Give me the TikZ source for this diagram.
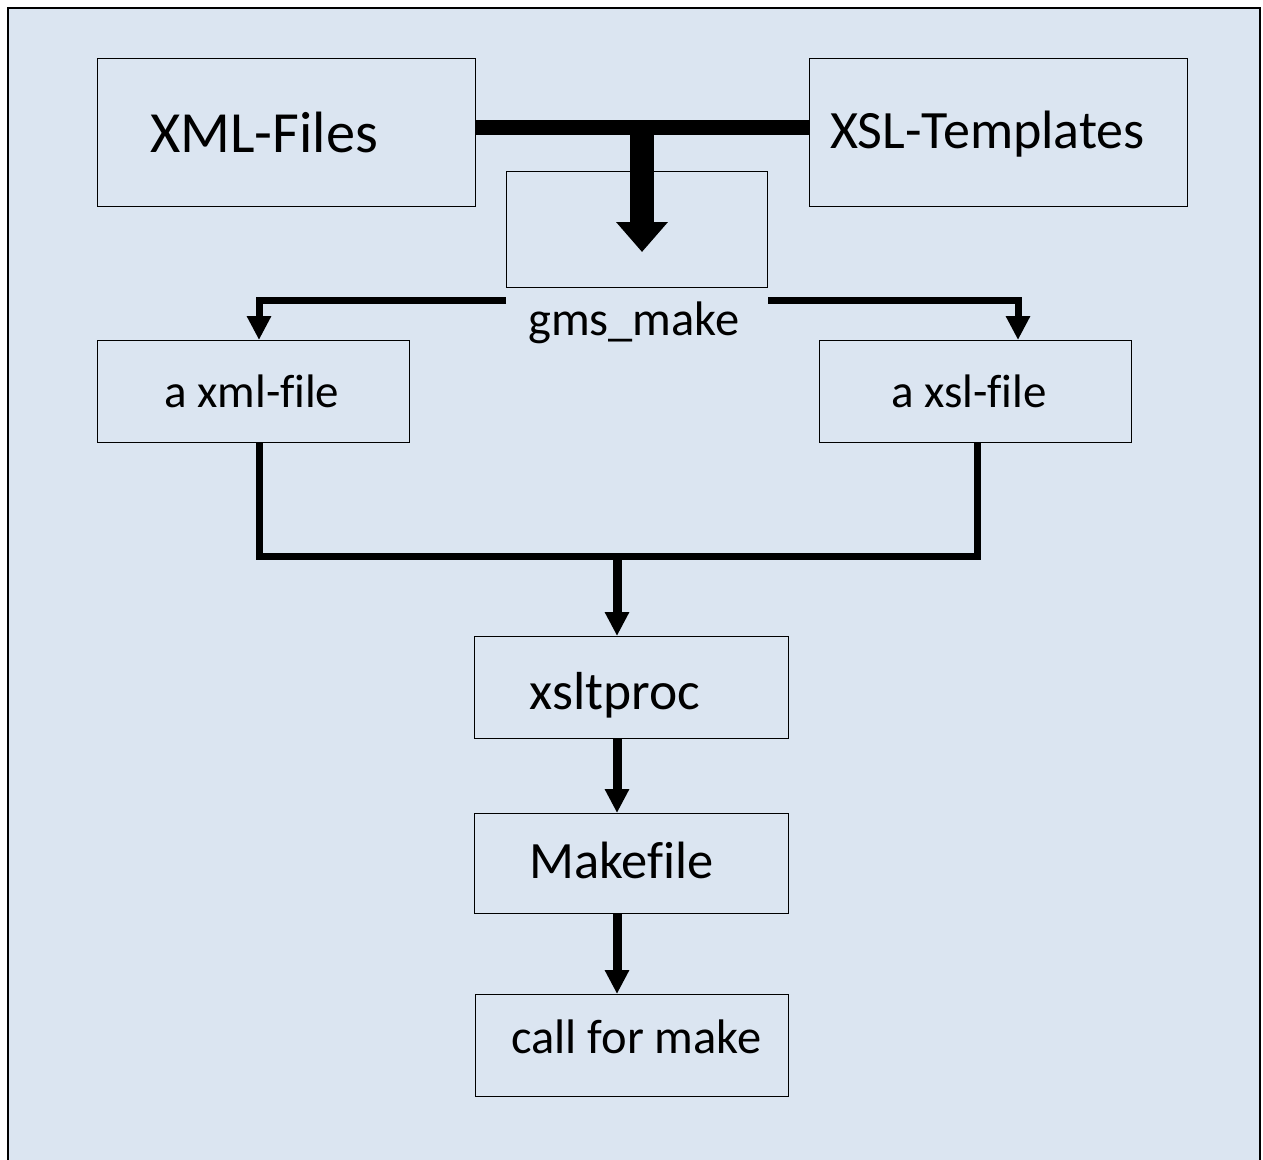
\documentclass[tikz,border=0pt]{standalone}
\usepackage{fontspec}
\setmainfont{Carlito}[Ligatures=NoCommon]
\usetikzlibrary{arrows.meta}
\definecolor{panel}{RGB}{219,229,241}
\newcommand\setfs[1]{\fontsize{#1}{#1}\selectfont}
\begin{document}
\begin{tikzpicture}[x=1pt,y=-1pt,
  box/.style={draw=black, line width=1.3pt, inner sep=0pt, anchor=north west},
  lbl/.style={anchor=base west, inner sep=0pt},
  wire/.style={line width=7pt},
  flow/.style={line width=9pt, -{Triangle[width=23pt,length=24pt]}},
  branch/.style={line width=7pt, -{Triangle[width=23pt,length=24pt]}},
  merge/.style={line width=15pt},
  trunk/.style={line width=24pt, -{Triangle[width=50pt,length=30pt]}}]
\useasboundingbox (0,0) rectangle (1263,1159);

% panel
\fill[panel] (8,8) rectangle (1260,1170);
\draw[line width=2pt] (8,1170) -- (8,8) -- (1260,8) -- (1260,1170);

% boxes
\node[box, minimum width=378pt, minimum height=148pt] (xml)  at (97,58)   {};
\node[box, minimum width=378pt, minimum height=148pt] (xsl)  at (809,58)  {};
\node[box, minimum width=261pt, minimum height=116pt] (gms)  at (506,171) {};
\node[box, minimum width=312pt, minimum height=102pt] (axml) at (97,340)  {};
\node[box, minimum width=312pt, minimum height=102pt] (axsl) at (819,340) {};
\node[box, minimum width=314pt, minimum height=102pt] (xslt) at (474,636) {};
\node[box, minimum width=314pt, minimum height=100pt] (mk)   at (474,813) {};
\node[box, minimum width=313pt, minimum height=102pt] (call) at (475,994) {};

% labels
\node[lbl, font=\setfs{58.3}] (txml)  at (150,152)  {XML-Files};
\node[lbl, font=\setfs{54}]   (txsl)  at (830,148)  {XSL-Templates};
\node[lbl, font=\setfs{48.5}] (tgms)  at (528,335)  {gms\_make};
\node[lbl, font=\setfs{47}]   (taxml) at (164,407)  {a xml-file};
\node[lbl, font=\setfs{47}]   (taxsl) at (891,407)  {a xsl-file};
\node[lbl, font=\setfs{53.5}] (txslt) at (529,709)  {xsltproc};
\node[lbl, font=\setfs{52.5}] (tmk)   at (529,878)  {Makefile};
\node[lbl, font=\setfs{48.5}] (tcall) at (511,1053) {call for make};

% junction points
\coordinate (bar)  at (642,127.5);
\coordinate (gin)  at (642,252);
\coordinate (sp)   at (0,300);
\coordinate (bl)   at (259,300);
\coordinate (br)   at (1018,300);
\coordinate (jl)   at (259,556);
\coordinate (jr)   at (977,556);
\coordinate (jm)   at (617,556);

% connectors
\draw[merge] (xml.east |- bar) -- (xsl.west |- bar);
\draw[trunk] (bar) -- (gin);
\draw[branch] (gms.west |- sp) -- (bl) -- (axml.north -| bl);
\draw[branch] (gms.east |- sp) -- (br) -- (axsl.north -| br);
\draw[wire] (axml.south -| jl) -- (jl) -- (jr) -- (axsl.south -| jr);
\draw[flow] (jm) -- (xslt.north -| jm);
\draw[flow] (xslt.south -| jm) -- (mk.north -| jm);
\draw[flow] (mk.south -| jm) -- (call.north -| jm);
\end{tikzpicture}
\end{document}
